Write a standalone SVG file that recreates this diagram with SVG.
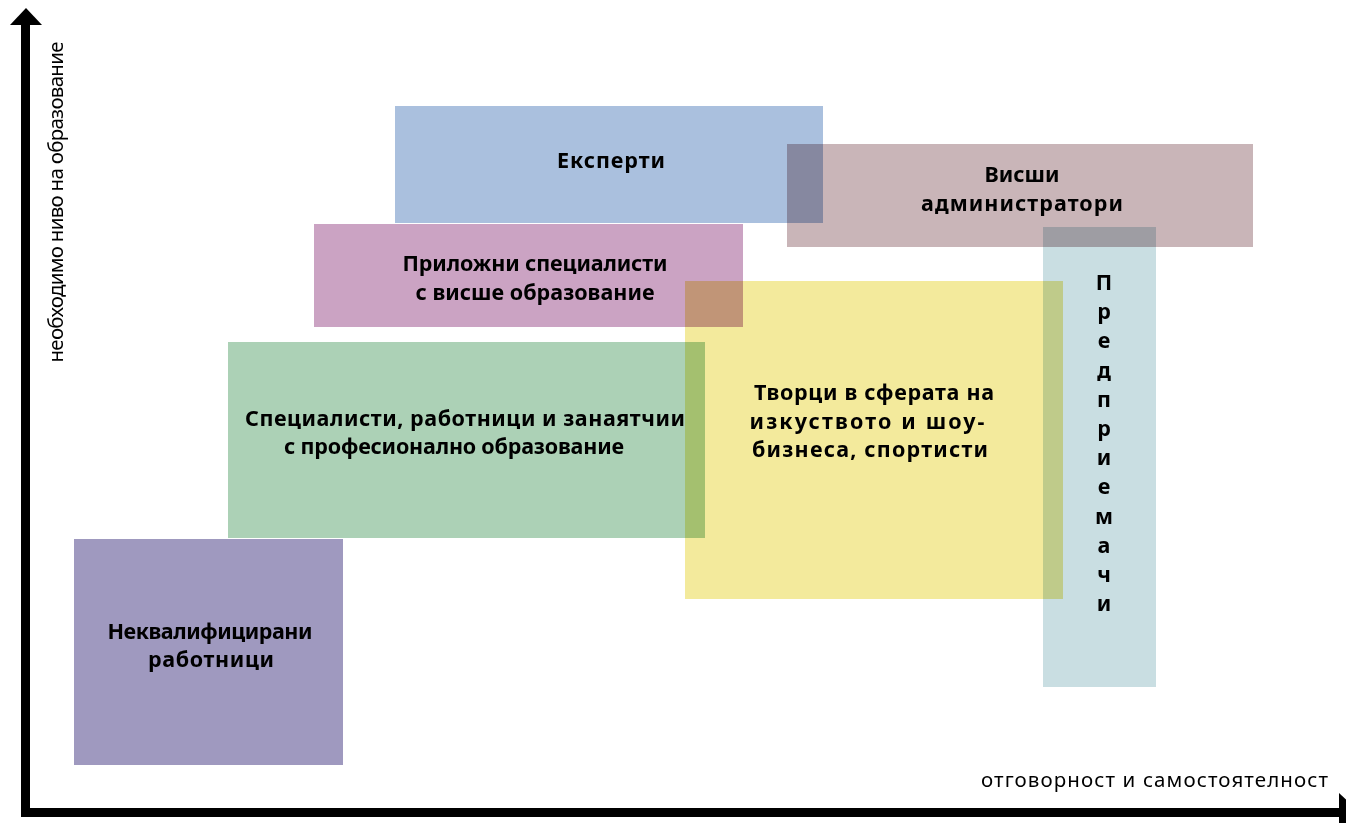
<svg xmlns="http://www.w3.org/2000/svg" width="1346" height="823" viewBox="0 0 1346 823" xml:lang="bg" lang="bg">
<style>
.box{mix-blend-mode:multiply}
.lbl{font-family:"Noto Sans","Open Sans","DejaVu Sans",sans-serif;font-weight:bold;font-size:21.5px;fill:#000;text-anchor:middle}
.ax{font-family:"Noto Sans","Open Sans","DejaVu Sans",sans-serif;font-size:20.5px;fill:#000}
</style>
<rect width="1346" height="823" fill="#fff"/>
<g id="connectors">
<path d="M25.5 22 V812.5 H1340" fill="none" stroke="#000" stroke-width="9"/>
<polygon points="26,8 42,25 10,25" fill="#000"/>
<polygon points="1339,793 1339,832 1360,812.5" fill="#000"/>
</g>
<g id="experts"><rect class="box" x="395" y="106" width="428" height="117" fill="#aac0de"/></g>
<g id="admins"><rect class="box" x="787" y="144" width="466" height="103" fill="#c9b5b8"/></g>
<g id="applied"><rect class="box" x="314" y="224" width="429" height="103" fill="#cba3c3"/></g>
<g id="creators"><rect class="box" x="685" y="281" width="378" height="318" fill="#f3ea9c"/></g>
<g id="specialists"><rect class="box" x="228" y="342" width="477" height="196" fill="#acd1b6"/></g>
<g id="unskilled"><rect class="box" x="74" y="539" width="269" height="226" fill="#9f99bf"/></g>
<g id="entrepreneurs"><rect class="box" x="1043" y="227" width="113" height="460" fill="#c9dee2"/></g>
<g id="texts">
<text class="lbl" x="611" y="168" textLength="108">Експерти</text>
<text class="lbl" x="1022" y="182">Висши</text>
<text class="lbl" x="1022" y="211" textLength="202">администратори</text>
<text class="lbl" x="535" y="271" textLength="265">Приложни специалисти</text>
<text class="lbl" x="535" y="300" textLength="239">с висше образование</text>
<text class="lbl" x="465" y="426" textLength="440">Специалисти, работници и занаятчии</text>
<text class="lbl" x="454" y="454" textLength="340">с професионално образование</text>
<text class="lbl" x="874" y="400" textLength="240">Творци в сферата на</text>
<text class="lbl" x="867" y="429" textLength="235">изкуството и шоу-</text>
<text class="lbl" x="870" y="457" textLength="236">бизнеса, спортисти</text>
<text class="lbl" x="210" y="639" textLength="205">Неквалифицирани</text>
<text class="lbl" x="211" y="667" textLength="126">работници</text>
<text class="lbl" x="1104"><tspan x="1104" y="290">П</tspan><tspan x="1104" y="319.2">р</tspan><tspan x="1104" y="348.4">е</tspan><tspan x="1104" y="377.6">д</tspan><tspan x="1104" y="406.8">п</tspan><tspan x="1104" y="436">р</tspan><tspan x="1104" y="465.2">и</tspan><tspan x="1104" y="494.4">е</tspan><tspan x="1104" y="523.6">м</tspan><tspan x="1104" y="552.8">а</tspan><tspan x="1104" y="582">ч</tspan><tspan x="1104" y="611.2">и</tspan></text>
<text class="ax" transform="translate(63,202) rotate(-90)" text-anchor="middle" textLength="321">необходимо ниво на образование</text>
<text class="ax" x="1328" y="787" text-anchor="end" textLength="347">отговорност и самостоятелност</text>
</g>
</svg>
